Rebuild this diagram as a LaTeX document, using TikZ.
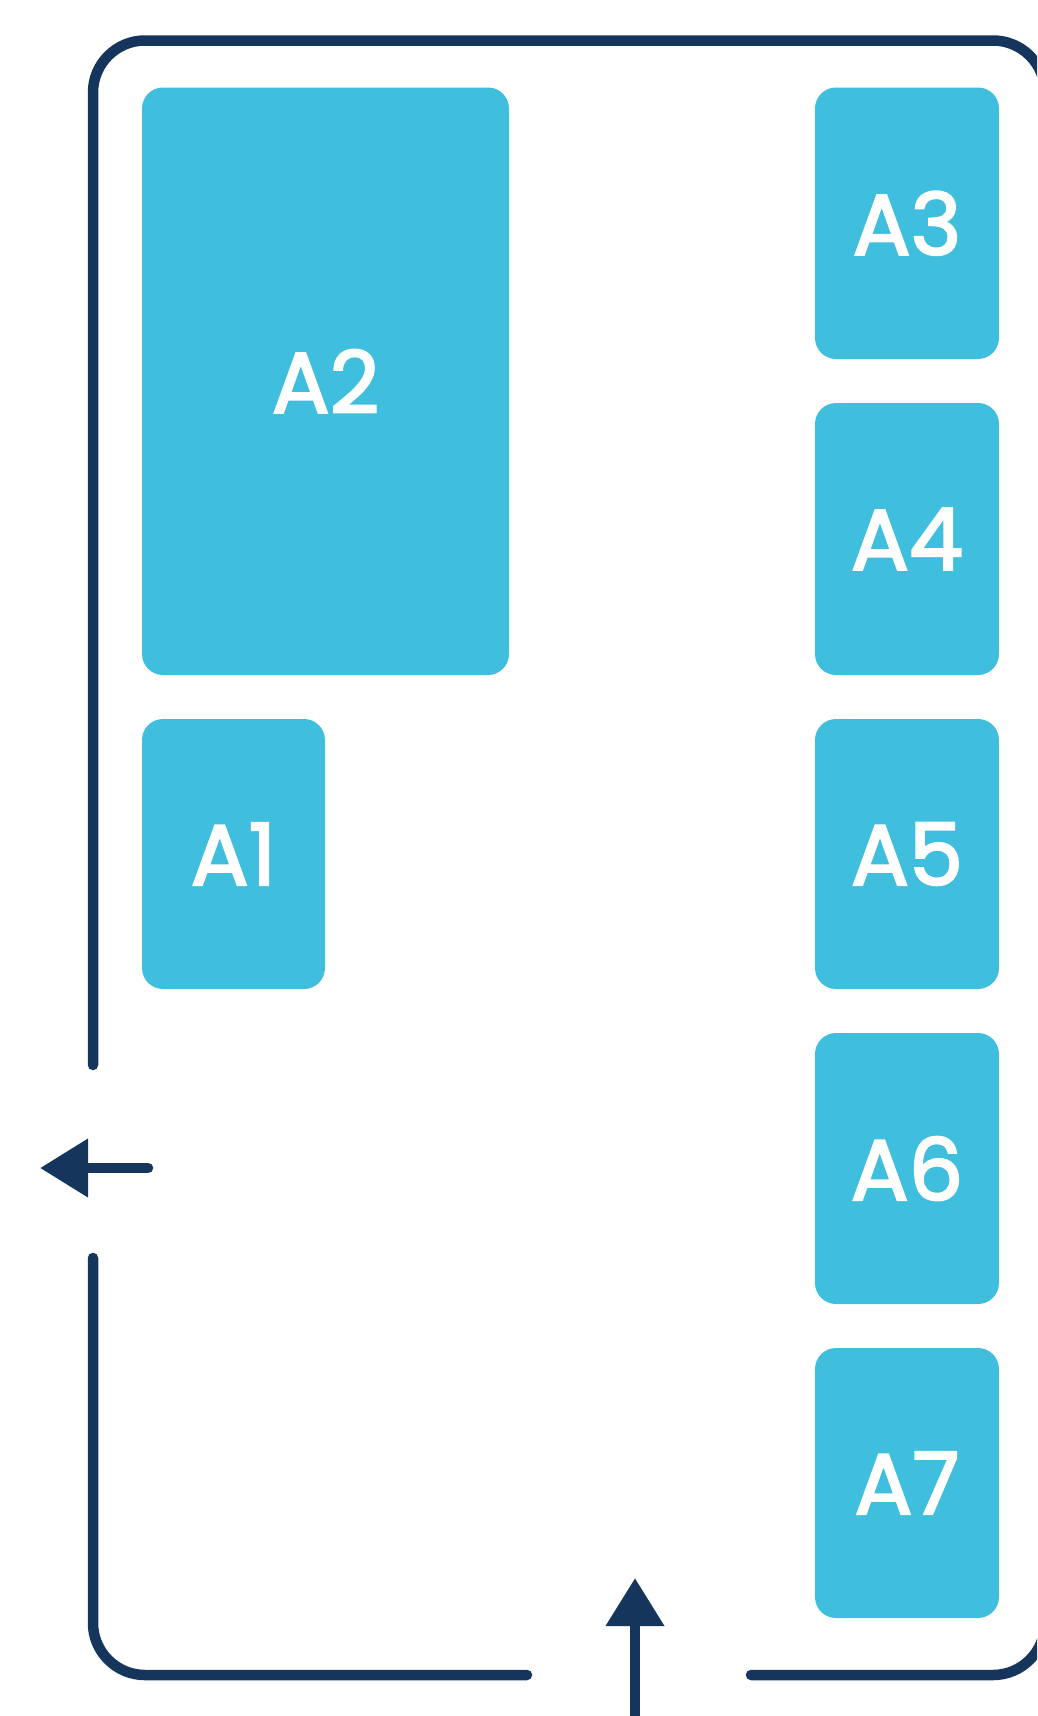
\documentclass[tikz,border=0pt]{standalone}
\usepackage{fontspec}
\newfontfamily\labelfont{Poppins}[FakeBold=2.5]
\usetikzlibrary{arrows.meta}
\definecolor{boxcyan}{HTML}{40BEDD}
\definecolor{navy}{HTML}{15355C}
\tikzset{
  bay/.style={fill=boxcyan, draw=none, rounded corners=21pt, inner sep=0pt,
    text=white, font=\labelfont\fontsize{86}{86}\selectfont},
  wall/.style={draw=navy, line width=10.5pt, line cap=round, rounded corners=52pt},
  flow/.style={draw=navy, line width=10.5pt, line cap=round,
    -{Triangle[length=48pt,width=56pt,fill=navy]}},
}
\begin{document}
\begin{tikzpicture}[x=1pt,y=-1pt]
\useasboundingbox (0,0) rectangle (1037,1716);
\clip (0,0) rectangle (1037,1716);
% bays
\node[bay, minimum width=367pt, minimum height=587.5pt] (A2) at (325.5,381.25) {A2};
\node[bay, minimum width=183pt, minimum height=270pt] (A1) at (233.5,854) {A1};
\node[bay, minimum width=184pt, minimum height=271.5pt] (A3) at (907,223.25) {A3};
\node[bay, minimum width=184pt, minimum height=272pt] (A4) at (907,539) {A4};
\node[bay, minimum width=184pt, minimum height=270pt] (A5) at (907,854) {A5};
\node[bay, minimum width=184pt, minimum height=271pt] (A6) at (907,1168.5) {A6};
\node[bay, minimum width=184pt, minimum height=270pt] (A7) at (907,1483) {A7};
% walls
\coordinate (wallTop) at (93,1065);
\coordinate (wallBot) at (93,1258);
\coordinate (doorL) at (527,1675);
\coordinate (doorR) at (751,1675);
\draw[wall] (wallTop) -- (93,40.5) -- (1045,40.5) -- (1045,1675) -- (doorR);
\draw[wall] (wallBot) -- (93,1675) -- (doorL);
% flow arrows
\coordinate (exitTail) at (148,1168);
\coordinate (exitTip) at (40,1168);
\coordinate (entryTail) at (635,1730);
\coordinate (entryTip) at (635,1578);
\draw[flow] (exitTail) -- (exitTip);
\draw[flow] (entryTail) -- (entryTip);
\end{tikzpicture}
\end{document}
